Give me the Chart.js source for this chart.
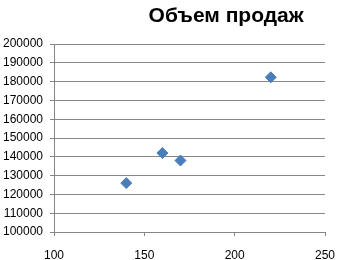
<!DOCTYPE html>
<html>
<head>
<meta charset="utf-8">
<script src="https://cdn.jsdelivr.net/npm/chart.js@4.4.0/dist/chart.umd.min.js"></script>
<style>
  html, body { margin: 0; padding: 0; background: #fff; }
  #wrap { width: 337px; height: 260px; }
</style>
</head>
<body>
<div id="wrap"><canvas id="chart" width="337" height="260"></canvas></div>
<script>
// chart data
const chartTitle = "Объем продаж";
const priceValues = [140, 160, 170, 220];
const salesValues = [126000, 142000, 138000, 182300];
const xTicks = [100, 150, 200, 250];
const yTicks = [100000, 110000, 120000, 130000, 140000, 150000, 160000, 170000, 180000, 190000, 200000];

const points = priceValues.map((x, i) => ({ x: x, y: salesValues[i] }));

// draw the title a bit right of center like the original
const titlePlugin = {
  id: "excelTitle",
  afterDraw(chart) {
    const c = chart.ctx;
    const area = chart.chartArea;
    c.save();
    c.font = "bold 21px 'Liberation Sans', Arial, sans-serif";
    c.fillStyle = "#000";
    c.textAlign = "center";
    c.textBaseline = "middle";
    c.fillText(chartTitle, area.left + (area.right - area.left) * 0.635, 16);
    c.restore();
  }
};

const ctx = document.getElementById("chart").getContext("2d");

new Chart(ctx, {
  type: "scatter",
  data: {
    datasets: [{
      data: points,
      pointStyle: "rectRot",
      pointRadius: 5.5,
      pointHoverRadius: 5.5,
      backgroundColor: "#4a7ebb",
      borderColor: "#4a7ebb",
      borderWidth: 1
    }]
  },
  options: {
    responsive: false,
    animation: false,
    layout: { padding: { top: 44, right: 0, left: 1, bottom: 0 } },
    plugins: {
      legend: { display: false },
      tooltip: { enabled: false }
    },
    scales: {
      x: {
        type: "linear",
        min: 100,
        max: 250,
        afterBuildTicks: axis => { axis.ticks = xTicks.map(v => ({ value: v })); },
        afterFit: axis => { axis.height = 28; axis.paddingLeft = 0; axis.paddingRight = 12; },
        grid: { drawOnChartArea: false, drawTicks: true, tickLength: 4, color: "#868686" },
        border: { display: true, color: "#868686" },
        ticks: {
          padding: 12,
          color: "#000",
          font: { family: "'Liberation Sans', Arial, sans-serif", size: 12 }
        }
      },
      y: {
        min: 100000,
        max: 200000,
        afterBuildTicks: axis => { axis.ticks = yTicks.map(v => ({ value: v })); },
        afterFit: axis => { axis.width = 53; },
        grid: { drawTicks: true, tickLength: 4, color: "#868686" },
        border: { display: true, color: "#868686" },
        ticks: {
          padding: 7,
          color: "#000",
          callback: v => String(v),
          font: { family: "'Liberation Sans', Arial, sans-serif", size: 12 }
        }
      }
    }
  },
  plugins: [titlePlugin]
});
</script>
</body>
</html>
